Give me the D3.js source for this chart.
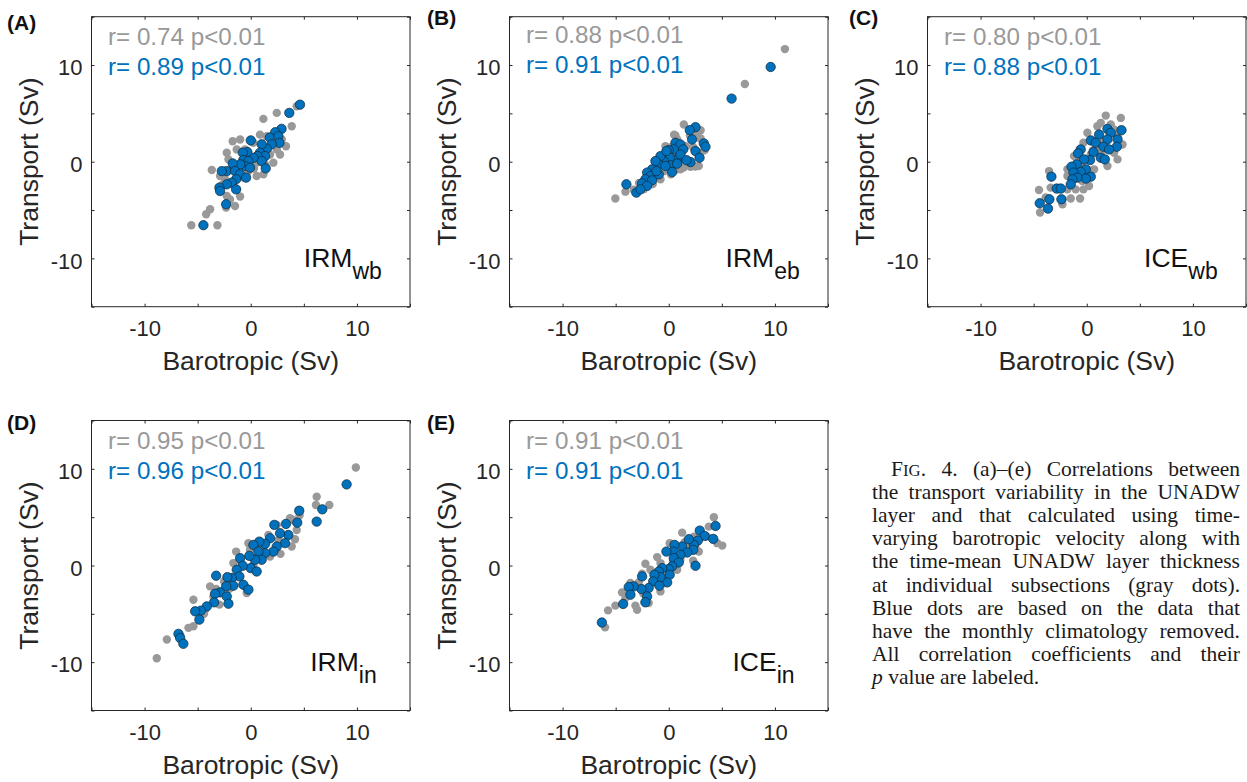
<!DOCTYPE html>
<html>
<head>
<meta charset="utf-8">
<script src="https://cdn.jsdelivr.net/npm/d3@7"></script>
<style>
  body { margin: 0; background: #fff; }
  svg { display: block; }
  text { font-family: "Liberation Sans", Arial, Helvetica, sans-serif; }
</style>
</head>
<body>
<svg id="fig" width="1247" height="782"></svg>
<script>
// ---- data ---------------------------------------------------------------
const panelLetters = ["(A)", "(B)", "(C)", "(D)", "(E)"];
const panelNames = [["IRM", "wb"], ["IRM", "eb"], ["ICE", "wb"], ["IRM", "in"], ["ICE", "in"]];
const rGray = ["0.74", "0.88", "0.80", "0.95", "0.91"];
const rBlue = ["0.89", "0.91", "0.88", "0.96", "0.91"];
const pGray = ["p<0.01", "p<0.01", "p<0.01", "p<0.01", "p<0.01"];
const pBlue = ["p<0.01", "p<0.01", "p<0.01", "p<0.01", "p<0.01"];
const axisDomain = [-15, 15];
const axisTicks = [-15, -10, -5, 0, 5, 10, 15];
const tickLabels = [-10, 0, 10];
const xTitle = "Barotropic (Sv)";
const yTitle = "Transport (Sv)";

// IRM western boundary: [barotropic, transport]
const grayA = [[-5.6,-6.57],[-3.14,-6.57],[-4.2,-5.43],[-3.83,-4.92],[-3.67,-0.86],[-2.32,-4.75],[-1.48,-4.58],
  [-1.0,-3.6],[-1.95,-3.9],[-1.7,2.12],[-1.32,1.27],[0.87,2.8],[1.19,4.43],[2.45,5.05],[3.86,3.67],[3.32,1.6],
  [2.76,0.75],[1.19,-1.31],[0.56,-1.48],[-0.22,-0.97],[4.33,5.73],[-2.26,0.93],[-2.1,0.24],[-1.0,2.3],[0.25,1.96],
  [1.5,2.64],[1.82,0.75],[2.13,-0.1],[-0.7,-1.65],[-2.42,-1.82],[-1.32,-2.86],[-0.38,-0.45],[2.45,1.27],[0.56,-0.1],
  [1.35,-0.28],[-0.54,1.27],[2.92,2.3],[-1.79,-0.79],[-2.89,-1.48],[-2.26,-3.55],[0.9,0.3],[-0.2,0.6],[1.6,1.1],
  [-1.1,-0.4],[0.3,-0.7],[2.2,2.6],[-2.7,-2.4]];
const blueA = [[4.64,5.9],[3.63,5.05],[2.9,3.4],[2.3,3.05],[1.8,2.5],[2.6,2.65],[2.7,1.95],[1.97,1.8],[1.5,1.35],
  [1.03,1.8],[0.87,0.93],[1.35,0.58],[0.63,0.58],[1.03,0.06],[0.0,2.2],[0.25,0.4],[-0.32,1.0],[-0.75,0.93],
  [-0.7,0.17],[-0.22,0.06],[-0.54,-0.45],[-0.07,-0.62],[-1.0,-0.28],[-1.7,-0.18],[-2.26,-0.97],[-2.73,-0.97],
  [-1.48,-0.97],[-1.0,-1.3],[-0.44,-1.65],[-1.38,-1.82],[-1.79,-2.17],[-2.26,-2.34],[-2.95,-2.68],[-2.89,-3.03],
  [-1.38,-2.86],[-2.32,-4.4],[1.41,-0.69],[-4.46,-6.57]];

// IRM eastern boundary
const grayB = [[10.94,11.65],[7.17,8.04],[-5.03,-3.81],[1.42,3.85],[2.05,-0.52],[2.83,-0.45],[0.63,2.71],[3.0,3.26],
  [-0.31,1.6],[-2.36,-2.86],[-4.08,-3.1],[-0.78,-1.82],[1.1,-0.79],[-3.3,-2.9],[-2.7,-2.7],[-2.3,-2.0],[-1.9,-1.7],
  [-1.6,-1.2],[-1.2,-0.8],[-0.9,-0.2],[-0.6,0.3],[-0.3,0.8],[0.2,1.5],[0.5,2.8],[0.8,2.3],[1.1,1.0],[1.6,1.6],
  [2.0,2.7],[2.7,3.0],[3.0,2.4],[2.5,-0.5],[3.0,0.9],[1.9,-0.3],[1.4,-0.6],[0.7,-0.8],[0.2,-1.3],[-0.5,-1.0],
  [-1.0,-1.6],[-2.0,-2.5],[-1.5,-2.3],[0.0,0.2],[0.6,0.5],[1.2,0.0],[-0.2,-0.5],[-1.3,0.1],[3.4,1.2],[2.3,1.5],
  [-2.8,-2.2]];
const blueB = [[9.6,9.8],[5.92,6.53],[-3.99,-2.34],[-3.05,-3.2],[2.52,3.57],[1.98,3.26],[2.2,2.3],[3.3,1.89],
  [3.46,1.55],[2.52,1.1],[2.9,0.41],[2.05,-0.04],[0.63,1.96],[1.1,1.78],[1.36,1.27],[0.47,1.27],[0.0,1.2],
  [0.85,0.31],[0.1,0.41],[0.16,-0.38],[0.32,-1.07],[-0.47,0.06],[-0.78,0.58],[-0.94,-0.28],[-1.25,0.06],
  [-1.57,-0.79],[-2.04,-1.13],[-1.73,-1.48],[-0.94,-1.31],[-2.2,-1.82],[-2.51,-2.24],[-1.57,-1.93],[-2.04,-2.51],
  [-2.67,-2.86],[-1.16,-0.97],[-0.31,-0.45],[1.1,0.75],[1.67,0.16],[0.79,-0.21],[-0.22,1.1]];

// ICE western boundary
const grayC = [[1.79,4.77],[3.21,4.53],[2.9,0.24],[1.0,3.67],[-0.31,1.96],[-3.55,-0.97],[-4.5,-2.93],[-4.4,-5.26],
  [-1.51,-3.81],[-0.63,-3.81],[-0.31,-2.86],[-2.29,-3.89],[-3.4,-2.68],[-1.82,-2.86],[-1.04,-2.86],[0.22,-2.51],
  [-1.82,-1.48],[0.69,-0.79],[1.95,-0.45],[2.58,0.93],[3.37,1.78],[1.32,4.02],[0.06,2.99],[-0.88,0.06],[-1.2,0.58],
  [0.38,0.75],[2.26,3.85],[-2.29,-4.4],[-3.87,-3.71],[1.0,1.27],[-0.41,-2.0],[-1.82,-0.79],[0.6,1.2],[1.6,2.2],
  [2.6,3.3],[2.9,2.6],[-0.6,-0.2],[0.3,-0.9],[1.4,1.0],[-1.6,-1.3]];
const blueC = [[3.27,3.26],[1.95,3.4],[2.26,2.99],[1.16,2.81],[2.9,2.3],[1.95,2.3],[0.38,2.2],[0.85,1.96],
  [2.83,1.55],[1.58,1.55],[2.1,1.27],[0.63,0.99],[-0.57,1.27],[-0.82,0.86],[1.32,0.41],[1.7,0.24],[0.31,0.17],
  [-0.25,0.24],[-0.94,-0.28],[-1.44,-0.52],[-0.09,-0.79],[-0.57,-1.07],[-1.25,-1.13],[0.38,-1.55],[-0.09,-1.75],
  [-0.88,-1.65],[-1.35,-1.82],[-1.51,-2.34],[-3.33,-1.55],[-2.83,-2.78],[-2.45,-2.78],[-2.39,-3.89],[-3.52,-3.89],
  [-4.43,-4.3],[-3.65,-4.85]];

// IRM interior
const grayD = [[9.9,10.14],[6.21,7.11],[6.14,6.26],[7.4,6.26],[4.0,4.71],[4.33,3.68],[4.17,2.72],[3.86,1.96],
  [1.66,3.16],[-0.22,2.31],[-1.38,1.44],[-0.54,-2.16],[-0.38,-2.85],[-2.95,-4.05],[-3.26,-2.43],[-5.4,-3.54],
  [-5.4,-6.29],[-5.87,-6.45],[-7.9,-7.66],[-8.85,-9.6],[-3.83,-2.16],[1.03,1.79],[1.82,0.93],[0.25,0.07],
  [-1.64,0.25],[-2.51,-1.65],[-4.3,-4.57],[-3.52,-3.2],[2.45,4.2],[2.6,2.65],[-0.07,1.62],[4.6,5.2],[3.7,4.9],
  [-6.6,-7.3],[-4.4,-5.0],[-2.0,-2.4],[0.9,1.1],[2.8,1.2],[-1.0,0.5]];
const blueD = [[9.03,8.39],[6.74,5.81],[6.21,4.54],[4.57,5.67],[4.38,4.43],[3.32,4.3],[2.22,4.2],[3.54,3.16],
  [2.76,3.34],[3.23,2.31],[2.45,1.96],[1.82,2.82],[1.35,2.24],[0.81,2.47],[0.25,2.13],[2.13,1.44],[1.35,1.28],
  [0.72,1.44],[1.03,0.59],[0.4,0.59],[-0.13,1.0],[-1.0,0.76],[0.0,-0.27],[0.56,-0.62],[-0.75,-0.03],[-1.32,-0.44],
  [-1.07,-1.13],[-1.79,-1.3],[-2.2,-1.2],[-0.7,-1.99],[-0.22,-2.5],[-1.64,-2.09],[-2.32,-2.16],[-3.26,-1.06],
  [-2.89,-2.78],[-3.36,-2.92],[-2.26,-3.2],[-2.1,-3.95],[-3.45,-3.81],[-4.14,-4.23],[-4.7,-4.67],[-5.24,-4.74],
  [-4.84,-5.6],[-6.81,-7.07],[-6.65,-7.5],[-6.35,-8.1]];

// ICE interior
const grayE = [[4.25,4.99],[5.04,2.06],[4.57,2.31],[3.77,4.02],[1.26,3.4],[0.09,2.31],[-1.09,0.87],[-2.2,0.18],
  [-2.51,-0.86],[-2.83,-1.75],[-4.4,-2.78],[-5.03,-4.15],[-5.72,-4.64],[-3.14,-4.15],[-2.98,-4.57],[-1.89,-3.88],
  [-0.78,-2.68],[0.79,-0.44],[1.74,2.13],[2.83,1.44],[3.62,2.99],[-0.78,0.25],[-1.73,-0.44],[-0.31,-1.13],
  [1.1,0.59],[2.36,2.99],[-4.08,-3.36],[-3.61,-1.81],[-6.0,-6.4],[2.3,0.5],[2.5,1.9],[1.5,2.4],[-1.2,-1.5],
  [0.4,0.4],[-2.4,-2.9]];
const blueE = [[4.41,4.09],[4.19,2.75],[2.92,3.61],[3.37,3.06],[2.74,2.58],[2.36,2.13],[2.3,1.62],[2.52,-0.03],
  [1.89,2.72],[1.26,1.96],[1.74,1.34],[0.54,2.13],[0.42,1.44],[-0.22,1.44],[1.1,1.1],[0.47,0.76],[0.94,0.31],
  [0.32,-0.1],[0.0,-0.37],[-0.62,-0.27],[-0.94,-0.62],[0.09,-0.96],[-0.15,-1.75],[-0.78,-1.2],[-1.35,-0.96],
  [-1.47,-1.65],[-0.88,-2.09],[-1.89,-2.33],[-2.51,-1.13],[-2.58,-2.43],[-3.3,-2.16],[-3.77,-2.23],[-3.61,-3.02],
  [-2.04,-3.2],[-2.2,-3.81],[-4.3,-3.98],[-6.3,-5.9]];

const grayData = [grayA, grayB, grayC, grayD, grayE];
const blueData = [blueA, blueB, blueC, blueD, blueE];

const captionLines = [
  "FIG. 4. (a)–(e) Correlations between",
  "the transport variability in the UNADW",
  "layer and that calculated using time-",
  "varying barotropic velocity along with",
  "the time-mean UNADW layer thickness",
  "at individual subsections (gray dots).",
  "Blue dots are based on the data that",
  "have the monthly climatology removed.",
  "All correlation coefficients and their",
  "p value are labeled."
];

// ---- layout -------------------------------------------------------------
const GRAY = "#999999", BLUE = "#0072BD", INK = "#262626";
const colLeft = [91.5, 509.5, 927.5];
const rowTop = [16.7, 420.5];
const W = 318.5, H = 290;
const layout = [
  { col: 0, row: 0, letter: [7, 30], statDy: 0, nameX: 5.0 },
  { col: 1, row: 0, letter: [427, 25], statDy: -2, nameX: 5.35 },
  { col: 2, row: 0, letter: [849, 25], statDy: 0, nameX: 5.4 },
  { col: 0, row: 1, letter: [7, 430], statDy: 0, nameX: 5.6 },
  { col: 1, row: 1, letter: [427, 430], statDy: 0, nameX: 6.0 }
];

const svg = d3.select("#fig");

layout.forEach((L, i) => {
  const left = colLeft[L.col], top = rowTop[L.row];
  const x = d3.scaleLinear().domain(axisDomain).range([left, left + W]);
  const y = d3.scaleLinear().domain(axisDomain).range([top + H, top]);
  const g = svg.append("g");

  // scatter: gray (raw) underneath, blue (climatology removed) on top
  g.append("g").selectAll("circle").data(grayData[i]).join("circle")
    .attr("cx", d => x(d[0])).attr("cy", d => y(d[1])).attr("r", 4.2)
    .attr("fill", GRAY);
  g.append("g").selectAll("circle").data(blueData[i]).join("circle")
    .attr("cx", d => x(d[0])).attr("cy", d => y(d[1])).attr("r", 4.7)
    .attr("fill", BLUE).attr("stroke", "#10263a").attr("stroke-width", 0.7);

  const fmt = d => tickLabels.includes(d) ? String(d) : "";
  const styleAxis = sel => {
    sel.select(".domain").remove();
    sel.selectAll(".tick line").attr("stroke", INK);
    sel.selectAll(".tick text").attr("fill", INK).attr("font-size", 22)
      .attr("font-family", "Liberation Sans, Arial, sans-serif");
  };
  g.append("g").attr("transform", `translate(0,${top + H})`)
    .call(d3.axisBottom(x).tickValues(axisTicks).tickSize(-3).tickPadding(14).tickFormat(fmt))
    .call(styleAxis);
  g.append("g").attr("transform", `translate(0,${top})`)
    .call(d3.axisTop(x).tickValues(axisTicks).tickSize(-3).tickFormat(() => ""))
    .call(styleAxis);
  g.append("g").attr("transform", `translate(${left},0)`)
    .call(d3.axisLeft(y).tickValues(axisTicks).tickSize(-3).tickPadding(9).tickFormat(fmt))
    .call(styleAxis)
    .selectAll(".tick text").attr("dy", "0.44em");
  g.append("g").attr("transform", `translate(${left + W},0)`)
    .call(d3.axisRight(y).tickValues(axisTicks).tickSize(-3).tickFormat(() => ""))
    .call(styleAxis);

  g.append("rect").attr("x", left).attr("y", top).attr("width", W).attr("height", H)
    .attr("fill", "none").attr("stroke", INK).attr("stroke-width", 1);

  // axis titles
  g.append("text").attr("x", left + W / 2).attr("y", top + H + 63)
    .attr("text-anchor", "middle").attr("font-size", 26.5).attr("fill", INK).text(xTitle);
  g.append("text").attr("transform", `translate(${left - 53.5},${top + H / 2}) rotate(-90)`)
    .attr("text-anchor", "middle").attr("font-size", 26.5).attr("fill", INK).text(yTitle);

  // correlation statistics
  g.append("text").attr("x", left + 16.5).attr("y", top + 28.5 + L.statDy)
    .attr("font-size", 24.2).attr("fill", GRAY).text(`r= ${rGray[i]} ${pGray[i]}`);
  g.append("text").attr("x", left + 16.5).attr("y", top + 58.5 + L.statDy)
    .attr("font-size", 24.2).attr("fill", BLUE).text(`r= ${rBlue[i]} ${pBlue[i]}`);

  // section name with subscript
  const nm = g.append("text").attr("x", x(L.nameX)).attr("y", y(-10.9))
    .attr("font-size", 26.5).attr("fill", "#111");
  nm.append("tspan").text(panelNames[i][0]);
  nm.append("tspan").attr("dy", 12).attr("font-size", 23).text(panelNames[i][1]);

  // panel letter
  g.append("text").attr("x", L.letter[0]).attr("y", L.letter[1])
    .attr("font-size", 21).attr("font-weight", "bold").attr("fill", "#111").text(panelLetters[i]);
});

// ---- caption (justified serif block) ------------------------------------
const cap = svg.append("g").attr("font-family", "Liberation Serif, Times New Roman, serif")
  .attr("fill", "#1a1a1a");
const capLeft = 872, capRight = 1240, capIndent = 19, capTop = 476, capLead = 23.1, capSize = 21.5;

function drawWord(parent, word, size, italicFirst) {
  const t = parent.append("text").attr("font-size", size)
    .style("font-family", "Liberation Serif, Times New Roman, serif");
  if (word === "FIG.") {
    t.append("tspan").text("F");
    t.append("tspan").attr("font-size", size * 0.78).text("IG");
    t.append("tspan").text(".");
  } else if (italicFirst) {
    t.append("tspan").attr("font-style", "italic").text(word);
  } else {
    t.text(word);
  }
  return t;
}

captionLines.forEach((line, li) => {
  const words = line.split(" ");
  const y0 = capTop + li * capLead;
  const start = capLeft + (li === 0 ? capIndent : 0);
  const last = li === captionLines.length - 1;
  const nodes = words.map((w, wi) => drawWord(cap, w, capSize, last && wi === 0));
  const widths = nodes.map(n => n.node().getComputedTextLength());
  const total = d3.sum(widths);
  const normalGap = capSize * 0.25;
  const gap = last || words.length < 2 ? normalGap : (capRight - start - total) / (words.length - 1);
  let cx = start;
  nodes.forEach((n, k) => {
    n.attr("x", cx).attr("y", y0);
    cx += widths[k] + gap;
  });
});
</script>
</body>
</html>
